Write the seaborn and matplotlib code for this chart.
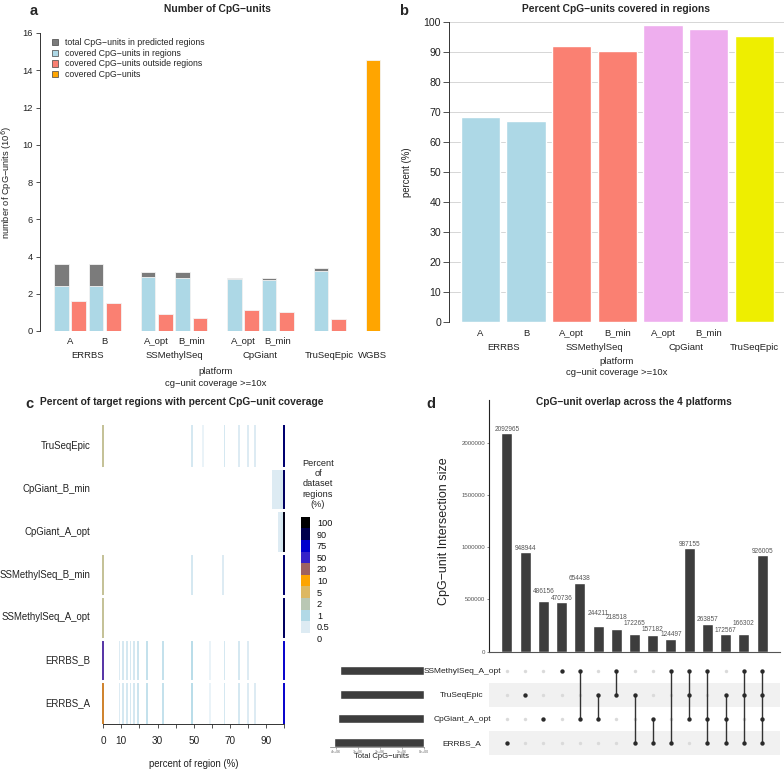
import numpy as np
import pandas as pd
import matplotlib
matplotlib.use("Agg")
import matplotlib.pyplot as plt
import matplotlib.transforms as mtransforms
from matplotlib.colors import LinearSegmentedColormap
from matplotlib.patches import Patch
import seaborn as sns

# ======================= DATA =======================
# ---- panel a : Number of CpG-units (10^6) ----
a_samples = ["A", "B", "A_opt", "B_min", "A_opt", "B_min", ""]
a_platforms = ["ERRBS", "ERRBS", "SSMethylSeq", "SSMethylSeq", "CpGiant", "CpGiant", "TruSeqEpic"]
a_total_in_regions = [3.58, 3.58, 3.17, 3.16, 2.82, 2.83, 3.37]
a_covered_in_regions = [2.44, 2.39, 2.91, 2.86, 2.79, 2.75, 3.21]
a_covered_outside = [1.63, 1.53, 0.90, 0.72, 1.11, 1.02, 0.65]
a_wgbs_platform = "WGBS"
a_wgbs_covered = [14.55]
a_yticks = [0, 2, 4, 6, 8, 10, 12, 14, 16]
a_legend_labels = ["total CpG−units in predicted regions",
                   "covered CpG−units in regions",
                   "covered CpG−units outside regions",
                   "covered CpG−units"]

# ---- panel b : Percent CpG-units covered in regions ----
b_samples = ["A", "B", "A_opt", "B_min", "A_opt", "B_min", ""]
b_platforms = ["ERRBS", "ERRBS", "SSMethylSeq", "SSMethylSeq", "CpGiant", "CpGiant", "TruSeqEpic"]
b_percent = [68.5, 67.2, 92.0, 90.4, 99.0, 97.7, 95.3]
b_yticks = [0, 10, 20, 30, 40, 50, 60, 70, 80, 90, 100]

# ---- panel c : percent of target regions per percent CpG-unit coverage ----
c_rows = ["TruSeqEpic", "CpGiant_B_min", "CpGiant_A_opt", "SSMethylSeq_B_min",
          "SSMethylSeq_A_opt", "ERRBS_B", "ERRBS_A"]
c_truseq_pct = [0, 49, 55, 67, 75, 80, 84, 100]
c_truseq_val = [3, 0.6, 0.3, 0.6, 0.5, 0.5, 0.5, 86]
c_cpg_b_pct = [94, 95, 96, 97, 98, 99, 100]
c_cpg_b_val = [0.5, 0.5, 0.5, 0.5, 0.55, 0.6, 88]
c_cpg_a_pct = [97, 98, 99, 100]
c_cpg_a_val = [0.5, 0.5, 0.6, 97]
c_ssm_b_pct = [0, 49, 66, 100]
c_ssm_b_val = [3, 0.6, 0.5, 86]
c_ssm_a_pct = [0, 100]
c_ssm_a_val = [3, 88]
c_errbs_b_pct = [0, 9, 11, 13, 15, 17, 19, 24, 33, 49, 59, 67, 75, 80, 100]
c_errbs_b_val = [40, 0.5, 0.6, 0.6, 0.6, 0.6, 0.7, 0.8, 0.8, 0.9, 0.3, 0.6, 0.6, 0.5, 70]
c_errbs_a_pct = [0, 9, 11, 13, 15, 17, 19, 24, 33, 49, 59, 67, 75, 80, 84, 100]
c_errbs_a_val = [15, 0.5, 0.6, 0.6, 0.6, 0.6, 0.7, 0.8, 0.8, 0.9, 0.3, 0.6, 0.6, 0.5, 0.5, 70]
c_breaks = [0, 0.5, 1, 2, 5, 10, 20, 50, 75, 90, 100]
c_break_labels = ["0", "0.5", "1", "2", "5", "10", "20", "50", "75", "90", "100"]
c_colors = ["#ffffff", "#dcebf3", "#b2d9e6", "#b9c7b3", "#ddb862", "#ffa500",
            "#9e6262", "#3623c9", "#0000cd", "#00004f", "#000000"]
c_xtick_values = [0, 10, 20, 30, 40, 50, 60, 70, 80, 90, 100]
c_xtick_labels = ["0", "10", "", "30", "", "50", "", "70", "", "90", ""]

# ---- panel d : UpSet ----
d_sets = ["SSMethylSeq_A_opt", "TruSeqEpic", "CpGiant_A_opt", "ERRBS_A"]
d_set_sizes = [3811508, 3835967, 3891572, 4075640]
d_intersections = [2092965, 948944, 486156, 470736, 654438, 244211, 218518,
                   172265, 157182, 124497, 987155, 263857, 172567, 166302, 926005]
d_members = [
    ["ERRBS_A"], ["TruSeqEpic"], ["CpGiant_A_opt"], ["SSMethylSeq_A_opt"],
    ["SSMethylSeq_A_opt", "CpGiant_A_opt"], ["TruSeqEpic", "CpGiant_A_opt"],
    ["SSMethylSeq_A_opt", "TruSeqEpic"], ["TruSeqEpic", "ERRBS_A"],
    ["CpGiant_A_opt", "ERRBS_A"], ["SSMethylSeq_A_opt", "ERRBS_A"],
    ["SSMethylSeq_A_opt", "TruSeqEpic", "CpGiant_A_opt"],
    ["SSMethylSeq_A_opt", "CpGiant_A_opt", "ERRBS_A"],
    ["TruSeqEpic", "CpGiant_A_opt", "ERRBS_A"],
    ["SSMethylSeq_A_opt", "TruSeqEpic", "ERRBS_A"],
    ["SSMethylSeq_A_opt", "TruSeqEpic", "CpGiant_A_opt", "ERRBS_A"]]
d_yticks = [0, 500000, 1000000, 1500000, 2000000]
d_size_ticks = [4e6, 3e6, 2e6, 1e6, 0]
d_size_tick_labels = ["4e+06", "3e+06", "2e+06", "1e+06", "0e+00"]

# ======================= STYLE / LAYOUT =======================
sns.set_theme(style="white")
plt.rcParams['font.family'] = ['Liberation Sans', 'DejaVu Sans']
plt.rcParams['axes.unicode_minus'] = True

W, H = 784, 772
fig = plt.figure(figsize=(W / 100, H / 100), dpi=100, facecolor="white")


def fx(px):
    return px / W


def fy(py):
    return 1 - py / H


def add_axes_px(left, top, right, bottom):
    return fig.add_axes([left / W, 1 - bottom / H, (right - left) / W, (bottom - top) / H])


def clean(ax):
    for s in ax.spines.values():
        s.set_visible(False)
    ax.set_xlabel("")
    ax.set_ylabel("")


# ======================= PANEL A =======================
axA = add_axes_px(40, 33, 384, 331)
slots_in = [0, 2, 5, 7, 10, 12, 15]
slots_out = [s + 1 for s in slots_in]
slot_wgbs = 18
col_total, col_in, col_out, col_wgbs = "#7b7b7b", "#add8e6", "#fa8072", "#ffa500"

sns.barplot(x=slots_in, y=a_total_in_regions, native_scale=True, width=0.425,
            color=col_total, saturation=1, errorbar=None, ax=axA,
            edgecolor="#f4f4f4", linewidth=0.6)
dfA = pd.DataFrame({
    "x": slots_in + slots_out + [slot_wgbs],
    "y": a_covered_in_regions + a_covered_outside + a_wgbs_covered,
    "kind": ["in"] * len(slots_in) + ["out"] * len(slots_out) + ["wgbs"]})
sns.barplot(data=dfA, x="x", y="y", hue="kind", native_scale=True, width=0.85,
            palette={"in": col_in, "out": col_out, "wgbs": col_wgbs}, dodge=False,
            saturation=1, errorbar=None, legend=False, ax=axA,
            edgecolor="#f4f4f4", linewidth=0.6)
clean(axA)
axA.set_xlim(-1.24, 18.64)
axA.set_ylim(0, 16)
axA.spines['left'].set_visible(True)
axA.spines['left'].set_bounds(0, 16)
axA.spines['left'].set_color("#333333")
axA.spines['left'].set_linewidth(0.7)
axA.set_yticks(a_yticks)
axA.set_yticklabels([str(v) for v in a_yticks])
axA.set_xticks([])
axA.tick_params(axis='y', left=True, length=3, width=0.6, color="#333333",
                labelsize=6.7, pad=2, labelcolor="#222222")

trA = mtransforms.blended_transform_factory(axA.transData, fig.transFigure)
pair_centers = [s + 0.5 for s in slots_in]
for lbl, xc in zip(a_samples, pair_centers):
    axA.text(xc, fy(341), lbl, ha='center', va='center', fontsize=6.8,
             transform=trA, color="#222222")
plat_order = []
for p in a_platforms:
    if p not in plat_order:
        plat_order.append(p)
for p in plat_order:
    xs = [xc for xc, pp in zip(pair_centers, a_platforms) if pp == p]
    axA.text(np.mean(xs), fy(356), p, ha='center', va='center', fontsize=6.8,
             transform=trA, color="#222222")
axA.text(slot_wgbs, fy(356), a_wgbs_platform, ha='center', va='center', fontsize=6.8,
         transform=trA, color="#222222")
fig.text(fx(216), fy(372), "platform", ha='center', va='center', fontsize=6.8, color="#222222")
fig.text(fx(216), fy(384), "cg−unit coverage >=10x", ha='center', va='center',
         fontsize=6.8, color="#222222")
fig.text(fx(7), fy(182), "number of CpG−units (10$^6$)", rotation=90, ha='center',
         va='center', fontsize=6.7, color="#222222")
fig.text(fx(217), fy(9.5), "Number of CpG−units", ha='center', va='center',
         fontsize=7.4, fontweight='bold')
fig.text(fx(34), fy(11), "a", ha='center', va='center', fontsize=10.5, fontweight='bold')

handles = [Patch(facecolor=c, edgecolor="#444444", linewidth=0.5)
           for c in [col_total, col_in, col_out, col_wgbs]]
axA.legend(handles, a_legend_labels, loc='upper left', frameon=False,
           bbox_to_anchor=(fx(52), fy(38)), bbox_transform=fig.transFigure,
           fontsize=6.3, handlelength=0.7, handleheight=0.7, handletextpad=0.75,
           labelspacing=0.2, borderpad=0, borderaxespad=0)

# ======================= PANEL B =======================
axB = add_axes_px(449.3, 22.3, 784, 322.3)
b_palette = {"ERRBS": "#add8e6", "SSMethylSeq": "#fa8072",
             "CpGiant": "#eeaeee", "TruSeqEpic": "#eeee00"}
b_x = list(range(len(b_percent)))
sns.barplot(x=b_x, y=b_percent, hue=b_platforms, palette=b_palette, native_scale=True,
            dodge=False, width=0.86, saturation=1, errorbar=None, legend=False, ax=axB,
            edgecolor="white", linewidth=1.0)
clean(axB)
axB.set_xlim(-0.68, 6.65)
axB.set_ylim(0, 100)
axB.set_yticks(b_yticks)
axB.set_yticklabels([str(v) for v in b_yticks])
axB.set_xticks([])
axB.yaxis.grid(True, color="#d6d6d6", linewidth=0.7)
axB.set_axisbelow(True)
axB.spines['left'].set_visible(True)
axB.spines['left'].set_bounds(0, 100)
axB.spines['left'].set_color("#333333")
axB.spines['left'].set_linewidth(0.7)
axB.tick_params(axis='y', left=True, length=4, width=0.6, color="#333333",
                labelsize=7.6, pad=2, labelcolor="#222222")
trB = mtransforms.blended_transform_factory(axB.transData, fig.transFigure)
for lbl, xc in zip(b_samples, b_x):
    axB.text(xc, fy(333), lbl, ha='center', va='center', fontsize=6.8,
             transform=trB, color="#222222")
for p in plat_order:
    xs = [xc for xc, pp in zip(b_x, b_platforms) if pp == p]
    axB.text(np.mean(xs), fy(347), p, ha='center', va='center', fontsize=6.8,
             transform=trB, color="#222222")
fig.text(fx(616.5), fy(361), "platform", ha='center', va='center', fontsize=6.8, color="#222222")
fig.text(fx(616.5), fy(373), "cg−unit coverage >=10x", ha='center', va='center',
         fontsize=6.8, color="#222222")
fig.text(fx(407), fy(172), "percent (%)", rotation=90, ha='center', va='center',
         fontsize=6.9, color="#222222")
fig.text(fx(616), fy(9), "Percent CpG−units covered in regions", ha='center',
         va='center', fontsize=7.4, fontweight='bold')
fig.text(fx(404), fy(11), "b", ha='center', va='center', fontsize=10.5, fontweight='bold')

# ======================= PANEL C =======================
c_cells = [(c_truseq_pct, c_truseq_val), (c_cpg_b_pct, c_cpg_b_val),
           (c_cpg_a_pct, c_cpg_a_val), (c_ssm_b_pct, c_ssm_b_val),
           (c_ssm_a_pct, c_ssm_a_val), (c_errbs_b_pct, c_errbs_b_val),
           (c_errbs_a_pct, c_errbs_a_val)]
cols = list(range(0, 101))
M = np.full((len(c_rows), len(cols)), np.nan)
for i, (pcts, vals) in enumerate(c_cells):
    for p, v in zip(pcts, vals):
        M[i, p] = np.interp(v, c_breaks, np.arange(len(c_breaks)))
dfC = pd.DataFrame(M, index=c_rows, columns=cols)
cmap = LinearSegmentedColormap.from_list(
    "cov", list(zip(np.linspace(0, 1, len(c_colors)), c_colors)))

axC = add_axes_px(102.4, 425, 285.0, 724)
sns.heatmap(dfC, mask=dfC.isna(), cmap=cmap, vmin=0, vmax=len(c_breaks) - 1, cbar=False,
            ax=axC, xticklabels=False, yticklabels=True)
for i in range(1, len(c_rows)):
    axC.axhline(i, color="white", linewidth=2.2)
axC.set_xlabel("")
axC.set_ylabel("")
axC.set_xticks([v + 0.5 for v in c_xtick_values])
axC.set_xticklabels(c_xtick_labels, rotation=0)
axC.set_yticklabels(c_rows, rotation=0)
axC.spines['bottom'].set_visible(True)
axC.spines['bottom'].set_bounds(0.5, 100.5)
axC.spines['bottom'].set_color("#333333")
axC.spines['bottom'].set_linewidth(0.7)
axC.tick_params(axis='x', bottom=True, length=3, width=0.6, color="#333333",
                labelsize=7.2, pad=6, labelcolor="#222222")
axC.tick_params(axis='y', left=False, length=0, labelsize=6.9, pad=8.5, labelcolor="#222222")
fig.text(fx(194), fy(764), "percent of region (%)", ha='center', va='center',
         fontsize=6.9, color="#222222")
fig.text(fx(40), fy(402), "Percent of target regions with percent CpG−unit coverage",
         ha='left', va='center', fontsize=7.4, fontweight='bold')
fig.text(fx(29), fy(404), "c", ha='center', va='center', fontsize=10.5, fontweight='bold')

# legend of panel c
leg_vals = np.arange(len(c_breaks))[::-1].reshape(-1, 1).astype(float)
dfL = pd.DataFrame(leg_vals, index=c_break_labels[::-1], columns=["v"])
axL = add_axes_px(301, 516.7, 310, 644.3)
sns.heatmap(dfL, cmap=cmap, vmin=0, vmax=len(c_breaks) - 1, cbar=False, ax=axL,
            xticklabels=False, yticklabels=True)
axL.set_xlabel("")
axL.set_ylabel("")
axL.yaxis.tick_right()
axL.set_yticklabels(c_break_labels[::-1], rotation=0)
axL.tick_params(axis='y', length=0, labelsize=6.6, pad=5, right=False, labelcolor="#111111")
fig.text(fx(318), fy(484), "Percent\nof\ndataset\nregions\n(%)", ha='center', va='center',
         fontsize=6.6, linespacing=1.15, color="#222222")

# ======================= PANEL D =======================
n_int = len(d_intersections)
d_x = list(range(n_int))
bar_col = "#3d3d3d"
axD = add_axes_px(488.7, 400, 780.3, 651.7)
sns.barplot(x=d_x, y=d_intersections, native_scale=True, width=0.6, color=bar_col,
            saturation=1, errorbar=None, ax=axD)
clean(axD)
axD.set_xlim(-1.0, 15.0)
axD.set_ylim(0, max(d_intersections) * 1.15)
axD.spines['left'].set_visible(True)
axD.spines['left'].set_color("#222222")
axD.spines['left'].set_linewidth(0.8)
axD.spines['bottom'].set_visible(True)
axD.spines['bottom'].set_color("#555555")
axD.spines['bottom'].set_linewidth(0.8)
axD.set_xticks([])
axD.set_yticks(d_yticks)
axD.set_yticklabels([str(v) for v in d_yticks])
axD.tick_params(axis='y', left=True, length=1.5, width=0.5, color="#555555",
                labelsize=4.4, pad=1, labelcolor="#555555")
# staggered count labels (vertical offsets in pixels, as in the reference layout)
label_dy_px = [3, 3.5, 9, 4, 5, 12.5, 11.5, 10.5, 6, 4, 3.5, 4.5, 3, 11, 3]
for xi, v, dy in zip(d_x, d_intersections, label_dy_px):
    axD.annotate(str(v), xy=(xi, v), xytext=(0, dy * 72 / 100), textcoords='offset points',
                 ha='center', va='center', fontsize=4.7, color="#555555")
fig.text(fx(443.7), fy(531), "CpG−unit Intersection size", rotation=90, ha='center',
         va='center', fontsize=9, color="#222222")
fig.text(fx(634), fy(402.3), "CpG−unit overlap across the 4 platforms", ha='center',
         va='center', fontsize=7.3, fontweight='bold')
fig.text(fx(431), fy(404), "d", ha='center', va='center', fontsize=10.5, fontweight='bold')

# matrix
row_of = {s: len(d_sets) - 1 - i for i, s in enumerate(d_sets)}
recs = []
for j, mem in enumerate(d_members):
    for s in d_sets:
        recs.append({"col": j, "row": row_of[s], "active": s in mem})
dfM = pd.DataFrame(recs)
axM = add_axes_px(488.7, 658, 780.3, 755)
for s in ["TruSeqEpic", "ERRBS_A"]:
    axM.axhspan(row_of[s] - 0.5, row_of[s] + 0.5, color="#f1f1f1", linewidth=0, zorder=0)
sns.scatterplot(data=dfM[~dfM.active], x="col", y="row", color="#dadada", s=6,
                linewidth=0, ax=axM, zorder=2)
act = dfM[dfM.active]
for j, g in act.groupby("col"):
    if len(g) > 1:
        axM.vlines(j, g.row.min(), g.row.max(), color="#333333", linewidth=1.0, zorder=3)
sns.scatterplot(data=act, x="col", y="row", color="#2a2a2a", s=10, linewidth=0,
                ax=axM, zorder=4)
clean(axM)
axM.set_xlim(-1.0, 15.0)
axM.set_ylim(-0.5, 3.53)
axM.set_xticks([])
axM.set_yticks([row_of[s] for s in d_sets])
axM.set_yticklabels(d_sets)
for t in axM.get_yticklabels():
    t.set_horizontalalignment('center')
axM.tick_params(axis='y', left=False, length=0, labelsize=6.0, pad=19.2, labelcolor="#222222")

# set sizes
axS = add_axes_px(330, 658, 424.3, 747)
sns.barplot(x=d_set_sizes, y=[row_of[s] for s in d_sets], orient='y', native_scale=True,
            width=0.39, color=bar_col, saturation=1, errorbar=None, ax=axS)
clean(axS)
axS.set_xlim(4.27e6, 0)
axS.set_ylim(-0.175, 3.53)
axS.set_yticks([])
axS.spines['bottom'].set_visible(True)
axS.spines['bottom'].set_color("#777777")
axS.spines['bottom'].set_linewidth(0.5)
axS.set_xticks(d_size_ticks)
axS.set_xticklabels(d_size_tick_labels)
axS.tick_params(axis='x', bottom=True, length=1.5, width=0.4, color="#777777",
                labelsize=2.6, pad=0.8, labelcolor="#666666")
fig.text(fx(381), fy(757), "Total CpG−units", ha='center', va='center', fontsize=5.5,
         color="#222222")

fig.savefig("out.png", dpi=100, facecolor="white")
